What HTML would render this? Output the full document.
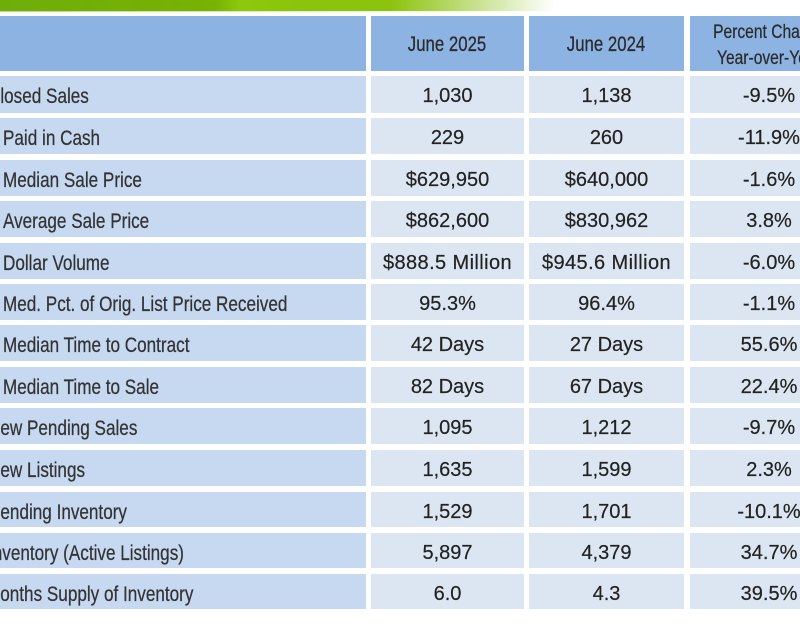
<!DOCTYPE html>
<html>
<head>
<meta charset="utf-8">
<style>
html,body{margin:0;padding:0;}
body{width:800px;height:623px;overflow:hidden;position:relative;background:#fff;}
.bar{position:absolute;left:0;top:0;width:800px;height:11px;
background:linear-gradient(90deg,#6fae0a 0px,#75b004 150px,#78b300 215px,#8ec80c 240px,#8bc40a 300px,#8cc30d 390px,#b5d865 450px,#dfeec0 510px,#ffffff 555px);}
.bar2{position:absolute;left:0;top:11px;width:540px;height:1px;background:linear-gradient(90deg,#b9d98a,#fff);}
.c{position:absolute;overflow:hidden;}
.h{background:#8db3e2;}
.l{background:#c6d9f1;}
.v{background:#dce6f2;}
.lab{position:absolute;white-space:nowrap;font-family:"Liberation Sans",sans-serif;font-size:21px;color:#333;transform:scaleX(0.815);transform-origin:0 50%;line-height:36px;top:3px;-webkit-text-stroke:0.25px #333;}
.val{position:absolute;left:0;right:0;text-align:center;font-family:"Liberation Sans",sans-serif;font-size:20px;color:#222;line-height:36px;top:2px;-webkit-text-stroke:0.2px #222;}
.ht{position:absolute;left:0;right:0;text-align:center;font-family:"Liberation Sans",sans-serif;color:#2a2a2a;}
.ht span{display:inline-block;transform:scaleX(0.8);transform-origin:50% 50%;white-space:nowrap;-webkit-text-stroke:0.25px #2a2a2a;}
</style>
</head>
<body>
<div class="bar"></div>
<div class="bar2"></div>

<!-- header -->
<div class="c h" style="left:0;top:16px;width:366px;height:55px;"></div>
<div class="c h" style="left:371px;top:16px;width:153px;height:55px;"><div class="ht" style="top:15px;font-size:21px;line-height:28px;"><span>June 2025</span></div></div>
<div class="c h" style="left:529px;top:16px;width:155px;height:55px;"><div class="ht" style="top:15px;font-size:21px;line-height:28px;"><span>June 2024</span></div></div>
<div class="c h" style="left:690px;top:16px;width:158px;height:55px;">
<div class="ht" style="top:3px;font-size:19.5px;line-height:26px;"><span>Percent Change</span></div>
<div class="ht" style="top:29px;font-size:19.5px;line-height:26px;"><span>Year-over-Year</span></div>
</div>

<div class="c l" style="left:0;top:76px;width:366px;height:37px;"><div class="lab" style="left:-12px;">Closed Sales</div></div>
<div class="c v" style="left:371px;top:76px;width:153px;height:37px;"><div class="val">1,030</div></div>
<div class="c v" style="left:529px;top:76px;width:155px;height:37px;"><div class="val">1,138</div></div>
<div class="c v" style="left:690px;top:76px;width:158px;height:37px;"><div class="val">-9.5%</div></div>

<div class="c l" style="left:0;top:118px;width:366px;height:36px;"><div class="lab" style="left:3px;">Paid in Cash</div></div>
<div class="c v" style="left:371px;top:118px;width:153px;height:36px;"><div class="val">229</div></div>
<div class="c v" style="left:529px;top:118px;width:155px;height:36px;"><div class="val">260</div></div>
<div class="c v" style="left:690px;top:118px;width:158px;height:36px;"><div class="val">-11.9%</div></div>

<div class="c l" style="left:0;top:160px;width:366px;height:36px;"><div class="lab" style="left:3px;">Median Sale Price</div></div>
<div class="c v" style="left:371px;top:160px;width:153px;height:36px;"><div class="val">$629,950</div></div>
<div class="c v" style="left:529px;top:160px;width:155px;height:36px;"><div class="val">$640,000</div></div>
<div class="c v" style="left:690px;top:160px;width:158px;height:36px;"><div class="val">-1.6%</div></div>

<div class="c l" style="left:0;top:201px;width:366px;height:36px;"><div class="lab" style="left:3px;">Average Sale Price</div></div>
<div class="c v" style="left:371px;top:201px;width:153px;height:36px;"><div class="val">$862,600</div></div>
<div class="c v" style="left:529px;top:201px;width:155px;height:36px;"><div class="val">$830,962</div></div>
<div class="c v" style="left:690px;top:201px;width:158px;height:36px;"><div class="val">3.8%</div></div>

<div class="c l" style="left:0;top:243px;width:366px;height:36px;"><div class="lab" style="left:3px;">Dollar Volume</div></div>
<div class="c v" style="left:371px;top:243px;width:153px;height:36px;"><div class="val" style="letter-spacing:0.4px;">$888.5 Million</div></div>
<div class="c v" style="left:529px;top:243px;width:155px;height:36px;"><div class="val" style="letter-spacing:0.4px;">$945.6 Million</div></div>
<div class="c v" style="left:690px;top:243px;width:158px;height:36px;"><div class="val">-6.0%</div></div>

<div class="c l" style="left:0;top:284px;width:366px;height:36px;"><div class="lab" style="left:3px;">Med. Pct. of Orig. List Price Received</div></div>
<div class="c v" style="left:371px;top:284px;width:153px;height:36px;"><div class="val">95.3%</div></div>
<div class="c v" style="left:529px;top:284px;width:155px;height:36px;"><div class="val">96.4%</div></div>
<div class="c v" style="left:690px;top:284px;width:158px;height:36px;"><div class="val">-1.1%</div></div>

<div class="c l" style="left:0;top:325px;width:366px;height:36px;"><div class="lab" style="left:3px;">Median Time to Contract</div></div>
<div class="c v" style="left:371px;top:325px;width:153px;height:36px;"><div class="val">42 Days</div></div>
<div class="c v" style="left:529px;top:325px;width:155px;height:36px;"><div class="val">27 Days</div></div>
<div class="c v" style="left:690px;top:325px;width:158px;height:36px;"><div class="val">55.6%</div></div>

<div class="c l" style="left:0;top:367px;width:366px;height:36px;"><div class="lab" style="left:3px;">Median Time to Sale</div></div>
<div class="c v" style="left:371px;top:367px;width:153px;height:36px;"><div class="val">82 Days</div></div>
<div class="c v" style="left:529px;top:367px;width:155px;height:36px;"><div class="val">67 Days</div></div>
<div class="c v" style="left:690px;top:367px;width:158px;height:36px;"><div class="val">22.4%</div></div>

<div class="c l" style="left:0;top:408px;width:366px;height:36px;"><div class="lab" style="left:-12px;">New Pending Sales</div></div>
<div class="c v" style="left:371px;top:408px;width:153px;height:36px;"><div class="val">1,095</div></div>
<div class="c v" style="left:529px;top:408px;width:155px;height:36px;"><div class="val">1,212</div></div>
<div class="c v" style="left:690px;top:408px;width:158px;height:36px;"><div class="val">-9.7%</div></div>

<div class="c l" style="left:0;top:450px;width:366px;height:36px;"><div class="lab" style="left:-12px;">New Listings</div></div>
<div class="c v" style="left:371px;top:450px;width:153px;height:36px;"><div class="val">1,635</div></div>
<div class="c v" style="left:529px;top:450px;width:155px;height:36px;"><div class="val">1,599</div></div>
<div class="c v" style="left:690px;top:450px;width:158px;height:36px;"><div class="val">2.3%</div></div>

<div class="c l" style="left:0;top:492px;width:366px;height:35px;"><div class="lab" style="left:-11px;">Pending Inventory</div></div>
<div class="c v" style="left:371px;top:492px;width:153px;height:35px;"><div class="val">1,529</div></div>
<div class="c v" style="left:529px;top:492px;width:155px;height:35px;"><div class="val">1,701</div></div>
<div class="c v" style="left:690px;top:492px;width:158px;height:35px;"><div class="val">-10.1%</div></div>

<div class="c l" style="left:0;top:533px;width:366px;height:35px;"><div class="lab" style="left:-12px;">Inventory (Active Listings)</div></div>
<div class="c v" style="left:371px;top:533px;width:153px;height:35px;"><div class="val">5,897</div></div>
<div class="c v" style="left:529px;top:533px;width:155px;height:35px;"><div class="val">4,379</div></div>
<div class="c v" style="left:690px;top:533px;width:158px;height:35px;"><div class="val">34.7%</div></div>

<div class="c l" style="left:0;top:574px;width:366px;height:35px;"><div class="lab" style="left:-14px;">Months Supply of Inventory</div></div>
<div class="c v" style="left:371px;top:574px;width:153px;height:35px;"><div class="val">6.0</div></div>
<div class="c v" style="left:529px;top:574px;width:155px;height:35px;"><div class="val">4.3</div></div>
<div class="c v" style="left:690px;top:574px;width:158px;height:35px;"><div class="val">39.5%</div></div>

</body>
</html>
